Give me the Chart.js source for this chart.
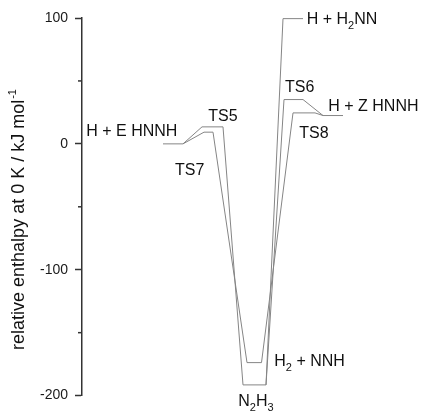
<!DOCTYPE html>
<html>
<head>
<meta charset="utf-8">
<script src="https://cdn.jsdelivr.net/npm/chart.js@4/dist/chart.umd.min.js"></script>
<style>
  html, body { margin: 0; padding: 0; background: #fff; }
  #wrap { width: 422px; height: 411px; }
</style>
</head>
<body>
<div id="wrap"><canvas id="pes"></canvas></div>
<script>
// reaction coordinate (arbitrary units) and relative enthalpy (kJ/mol)
// E-HNNH + H -> TS5 -> N2H3 -> H + H2NN
var addEX = [8.1, 10.1, 12.0, 14.1, 16.1, 18.4, 20.1, 22.1];
var addEY = [0, 0, 13.5, 13.5, -191.5, -191.5, 99.5, 99.5];
// N2H3 -> TS6 -> H + Z-HNNH
var addZX = [18.4, 20.2, 22.1, 24.1, 26.1];
var addZY = [-191.5, 35.2, 35.2, 22.5, 22.5];
// E-HNNH + H -> TS7 -> H2 + NNH -> TS8 -> H + Z-HNNH
var abstrX = [10.1, 12.2, 13.1, 16.5, 17.95, 21.1, 23.3, 24.1];
var abstrY = [0, 9.3, 9.3, -173.8, -173.8, 24.6, 24.6, 22.5];

var yTicks = [100, 0, -100, -200];

// species labels ("_2" = subscript), anchored in chart units
var labelText = ['H + E HNNH', 'TS5', 'TS7', 'H + H_2NN', 'TS6', 'H + Z HNNH', 'TS8', 'H_2 + NNH', 'N_2H_3'];
var labelX = [0.43, 12.63, 9.3, 22.47, 20.3, 24.63, 21.73, 19.23, 15.63];
var labelY = [5.9, 18.4, -24.6, 95.2, 41.2, 26.3, 4.6, -176.4, -208.3];

function pts(xs, ys) {
  return xs.map(function(x, i){ return { x: x, y: ys[i] }; });
}

var FONT = '"Liberation Sans", Arial, sans-serif';

function drawRich(ctx, str, x, y, size) {
  var parts = str.split(/(_\d)/);
  parts.forEach(function(p){
    if (!p) return;
    if (p.charAt(0) === '_') {
      ctx.font = Math.round(size * 0.68) + 'px ' + FONT;
      ctx.fillText(p.slice(1), x, y + size * 0.3);
      x += ctx.measureText(p.slice(1)).width;
    } else {
      ctx.font = size + 'px ' + FONT;
      ctx.fillText(p, x, y);
      x += ctx.measureText(p).width;
    }
  });
}

var extras = {
  id: 'extras',
  afterDraw: function(chart) {
    var ctx = chart.ctx;
    var xs = chart.scales.x, ys = chart.scales.y;
    ctx.save();

    // minor ticks halfway between the labelled ones
    ctx.strokeStyle = '#333';
    ctx.lineWidth = 1.5;
    var t = ys.ticks;
    for (var i = 0; i < t.length - 1; i++) {
      var py = ys.getPixelForValue((t[i].value + t[i + 1].value) / 2);
      ctx.beginPath();
      ctx.moveTo(ys.right - 4, py);
      ctx.lineTo(ys.right, py);
      ctx.stroke();
    }

    // species labels
    ctx.fillStyle = '#111';
    ctx.textAlign = 'left';
    ctx.textBaseline = 'alphabetic';
    labelText.forEach(function(txt, k){
      drawRich(ctx, txt, xs.getPixelForValue(labelX[k]), ys.getPixelForValue(labelY[k]), 16);
    });

    // axis title, rotated
    ctx.translate(23.5, 220);
    ctx.rotate(-Math.PI / 2);
    var main = 'relative enthalpy at 0 K / kJ mol';
    ctx.font = '18px ' + FONT;
    var w1 = ctx.measureText(main).width;
    ctx.font = '11px ' + FONT;
    var w2 = ctx.measureText('-1').width;
    var x0 = -(w1 + w2) / 2;
    ctx.font = '18px ' + FONT;
    ctx.fillText(main, x0, 0);
    ctx.font = '11px ' + FONT;
    ctx.fillText('-1', x0 + w1 + 1, -8);
    ctx.restore();
  }
};

function route(label, xs, ys) {
  return {
    label: label,
    data: pts(xs, ys),
    borderColor: '#858585',
    borderWidth: 1,
    pointRadius: 0,
    tension: 0,
    fill: false
  };
}

var chart = new Chart(document.getElementById('pes'), {
  type: 'line',
  data: {
    datasets: [
      route('TS5 route', addEX, addEY),
      route('TS6 route', addZX, addZY),
      route('TS7/TS8 route', abstrX, abstrY)
    ]
  },
  options: {
    responsive: true,
    maintainAspectRatio: false,
    animation: false,
    layout: { padding: { top: 18, bottom: 15, left: 0, right: 0 } },
    plugins: { legend: { display: false }, tooltip: { enabled: false } },
    scales: {
      x: { type: 'linear', min: 0, max: 34, display: false },
      y: {
        min: -200, max: 100,
        afterFit: function(scale) { scale.width = 82; },
        afterBuildTicks: function(scale) {
          scale.ticks = yTicks.map(function(v){ return { value: v }; });
        },
        ticks: {
          color: '#1a1a1a',
          padding: 7,
          font: { family: FONT, size: 14 }
        },
        grid: {
          drawOnChartArea: false,
          drawTicks: true,
          tickLength: 7,
          tickWidth: 1.5,
          tickColor: '#333'
        },
        border: { display: true, color: '#333', width: 1.5 }
      }
    }
  },
  plugins: [extras]
});
</script>
</body>
</html>
